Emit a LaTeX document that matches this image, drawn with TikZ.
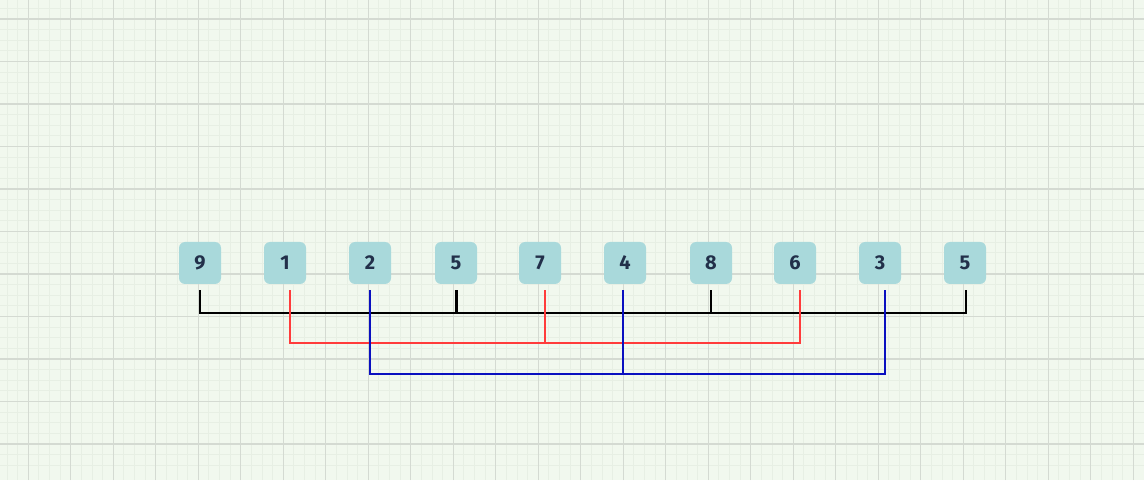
\documentclass[tikz,border=0pt]{standalone}
\usepackage{fontspec}
\setmainfont{Fira Sans}
\definecolor{bgc}{HTML}{F1F8EE}
\definecolor{minorc}{HTML}{E7EFE4}
\definecolor{majorc}{HTML}{D4DAD2}
\definecolor{boxc}{HTML}{A9D9DB}
\definecolor{txtc}{HTML}{22304A}
\definecolor{redc}{HTML}{FF3B3B}
\definecolor{bluec}{HTML}{0A10C0}
\tikzset{
  numbox/.style={fill=boxc, rounded corners=6pt, minimum width=42pt, minimum height=42pt, inner sep=0pt, text=txtc, font=\fontsize{20}{20}\selectfont\bfseries},
  blackline/.style={draw=black, line width=2pt},
  redline/.style={draw=redc, line width=2pt},
  blueline/.style={draw=bluec, line width=2pt},
  minorline/.style={draw=minorc, line width=1pt},
  majorline/.style={draw=majorc, line width=1.3pt},
}
\begin{document}
\begin{tikzpicture}[x=1pt,y=1pt]
\fill[bgc] (0,0) rectangle (1144,480);
\useasboundingbox (0,0) rectangle (1144,480);
% minor grid
\foreach \i in {0,...,108} {
  \draw[minorline] ({28.3-42.5+10.625*\i},0) -- ({28.3-42.5+10.625*\i},480);
}
\foreach \j in {0,...,46} {
  \draw[minorline] (0,{480-19+42.5-10.625*\j}) -- (1144,{480-19+42.5-10.625*\j});
}
% major grid
\foreach \i in {0,...,26} {
  \draw[majorline] ({28.3+42.5*\i},0) -- ({28.3+42.5*\i},480);
}
\foreach \j in {0,...,11} {
  \draw[majorline] (0,{480-19-42.5*\j}) -- (1144,{480-19-42.5*\j});
}
% boxes
\node[numbox] (b1) at (200,217) {9};
\node[numbox] (b2) at (285,217) {1};
\node[numbox] (b3) at (370,217) {2};
\node[numbox] (b4) at (456,217) {5};
\node[numbox] (b5) at (540,217) {7};
\node[numbox] (b6) at (625,217) {4};
\node[numbox] (b7) at (711,217) {8};
\node[numbox] (b8) at (795,217) {6};
\node[numbox] (b9) at (880,217) {3};
\node[numbox] (b10) at (965,217) {5};
% black bracket
\coordinate (k1) at ([yshift=-6pt]b1.south);
\coordinate (k4) at ([yshift=-6pt]b4.south);
\coordinate (k7) at ([yshift=-6pt]b7.south);
\coordinate (k10) at ([xshift=1pt,yshift=-6pt]b10.south);
\draw[blackline] (k1) -- (k1 |- 0,167) -- (k10 |- 0,167) -- (k10);
\draw[draw=black, line width=3pt] (k4) -- (k4 |- 0,166);
\draw[blackline] (k7) -- (k7 |- 0,167);
% red bracket
\coordinate (r2) at ([xshift=5pt,yshift=-6pt]b2.south);
\coordinate (r5) at ([xshift=5pt,yshift=-6pt]b5.south);
\coordinate (r8) at ([xshift=5pt,yshift=-6pt]b8.south);
\draw[redline] (r2) -- (r2 |- 0,137.5) -- (r8 |- 0,137.5) -- (r8);
\draw[redline] (r5) -- (r5 |- 0,137.5);
% blue bracket
\coordinate (u3) at ([yshift=-6pt]b3.south);
\coordinate (u6) at ([xshift=-2pt,yshift=-6pt]b6.south);
\coordinate (u9) at ([xshift=5pt,yshift=-6pt]b9.south);
\draw[blueline] (u3) -- (u3 |- 0,106) -- (u9 |- 0,106) -- (u9);
\draw[blueline] (u6) -- (u6 |- 0,106);
\end{tikzpicture}
\end{document}
